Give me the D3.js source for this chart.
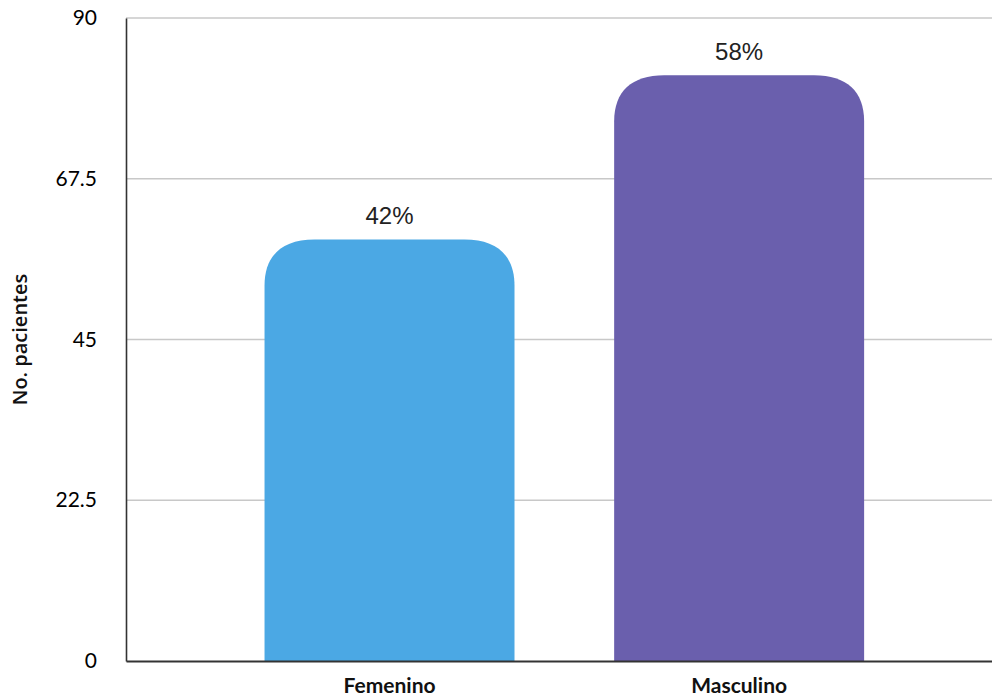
<!DOCTYPE html>
<html>
<head>
<meta charset="utf-8">
<script src="https://cdn.jsdelivr.net/npm/d3@7"></script>
<style>
  html, body { margin: 0; padding: 0; background: #fff; }
  svg { display: block; }
</style>
</head>
<body>
<svg id="chart" width="992" height="700"></svg>
<script>
// Patients by sex
const categories = ["Femenino", "Masculino"];
const patients = [59, 82];
const percentLabels = ["42%", "58%"];
const yTicks = [0, 22.5, 45, 67.5, 90];
const barColors = ["#4ba8e4", "#6a5fad"];

const svg = d3.select("#chart");
const plotLeft = 126, plotRight = 992, plotTop = 18, plotBottom = 661;

const x = d3.scaleBand()
  .domain(categories)
  .range([plotLeft, plotRight])
  .paddingInner(0.285)
  .paddingOuter(0.381)
  .align(0.52);

const y = d3.scaleLinear().domain([0, 90]).range([plotBottom, plotTop]);

const tickFont = "Lato, 'Open Sans', sans-serif";

// horizontal grid lines
svg.append("g")
  .selectAll("line")
  .data(yTicks.filter(d => d > 0))
  .join("line")
  .attr("x1", plotLeft).attr("x2", plotRight)
  .attr("y1", d => y(d)).attr("y2", d => y(d))
  .attr("stroke", "#c8c8c8")
  .attr("stroke-width", 1.5);

// y axis
const yAxis = svg.append("g")
  .attr("transform", `translate(${plotLeft},0)`)
  .call(d3.axisLeft(y).tickValues(yTicks).tickSize(0).tickPadding(29)
    .tickFormat(d => String(d)));
yAxis.select(".domain").attr("stroke", "#333").attr("stroke-width", 1.6);
yAxis.selectAll("text")
  .attr("font-family", tickFont)
  .attr("font-size", 21)
  .attr("fill", "#000");

// bars with rounded tops
const rx = 50, ry = 46;
function barPath(d, i) {
  const x0 = x(categories[i]), w = x.bandwidth();
  const yt = y(d), yb = y(0);
  const r = Math.min(ry, (yb - yt));
  return `M${x0},${yb} L${x0},${yt + r} ` +
    `C${x0},${yt + r * 0.35} ${x0 + rx * 0.35},${yt} ${x0 + rx},${yt} ` +
    `L${x0 + w - rx},${yt} ` +
    `C${x0 + w - rx * 0.35},${yt} ${x0 + w},${yt + r * 0.35} ${x0 + w},${yt + r} ` +
    `L${x0 + w},${yb} Z`;
}
svg.append("g")
  .selectAll("path")
  .data(patients)
  .join("path")
  .attr("d", barPath)
  .attr("fill", (d, i) => barColors[i]);

// x axis baseline
const xAxis = svg.append("g")
  .attr("transform", `translate(0,${plotBottom})`)
  .call(d3.axisBottom(x).tickSize(0).tickPadding(17));
xAxis.select(".domain").attr("stroke", "#333").attr("stroke-width", 2);
xAxis.selectAll("text")
  .attr("font-family", tickFont)
  .attr("font-weight", 700)
  .attr("font-size", 21)
  .attr("fill", "#111");

// value labels
svg.append("g")
  .selectAll("text")
  .data(patients)
  .join("text")
  .attr("x", (d, i) => x(categories[i]) + x.bandwidth() / 2)
  .attr("y", d => y(d) - 15)
  .attr("text-anchor", "middle")
  .attr("font-family", "'Liberation Sans', Arial, sans-serif")
  .attr("font-size", 24)
  .attr("fill", "#222")
  .text((d, i) => percentLabels[i]);

// y axis title
svg.append("text")
  .attr("transform", `translate(27,${(plotTop + plotBottom) / 2}) rotate(-90)`)
  .attr("text-anchor", "middle")
  .attr("font-family", "'Open Sans', 'Liberation Sans', sans-serif")
  .attr("font-weight", 600)
  .attr("font-size", 20)
  .attr("fill", "#111")
  .text("No. pacientes");
</script>
</body>
</html>
